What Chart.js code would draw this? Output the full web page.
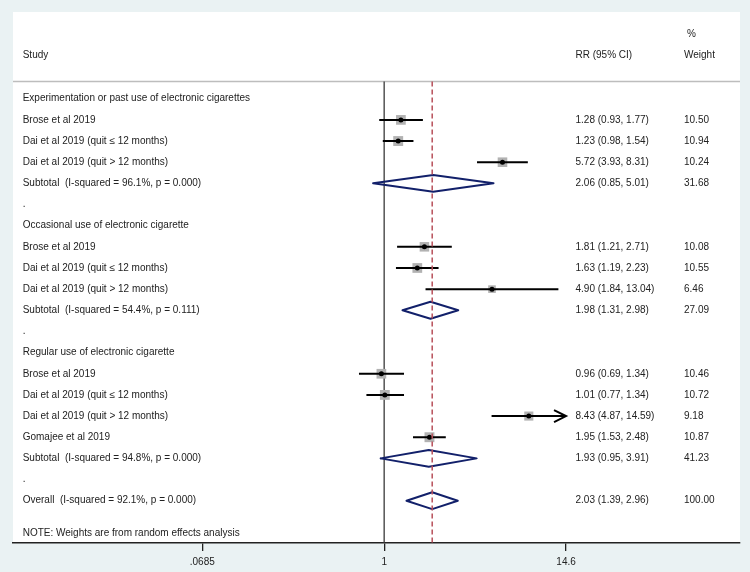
<!DOCTYPE html>
<html>
<head>
<meta charset="utf-8">
<script src="https://cdn.jsdelivr.net/npm/chart.js@4.4.1/dist/chart.umd.min.js"></script>
<style>
  html, body { margin: 0; padding: 0; background: #eaf2f3; }
  #wrap { width: 750px; height: 572px; }
</style>
</head>
<body>
<div id="wrap"><canvas id="forest" width="750" height="572"></canvas></div>
<script>
// ---- data ----
const rowLabels = [
    'Experimentation or past use of electronic cigarettes',
    'Brose et al 2019',
    'Dai et al 2019 (quit \u2264 12 months)',
    'Dai et al 2019 (quit > 12 months)',
    'Subtotal  (I-squared = 96.1%, p = 0.000)',
    '.',
    'Occasional use of electronic cigarette',
    'Brose et al 2019',
    'Dai et al 2019 (quit \u2264 12 months)',
    'Dai et al 2019 (quit > 12 months)',
    'Subtotal  (I-squared = 54.4%, p = 0.111)',
    '.',
    'Regular use of electronic cigarette',
    'Brose et al 2019',
    'Dai et al 2019 (quit \u2264 12 months)',
    'Dai et al 2019 (quit > 12 months)',
    'Gomajee et al 2019',
    'Subtotal  (I-squared = 94.8%, p = 0.000)',
    '.',
    'Overall  (I-squared = 92.1%, p = 0.000)'
];
const noteText = 'NOTE: Weights are from random effects analysis';

const studyRows   = [1, 2, 3, 7, 8, 9, 13, 14, 15, 16];
const studyRR     = [1.28, 1.23, 5.72, 1.81, 1.63, 4.90, 0.96, 1.01, 8.43, 1.95];
const studyLo     = [0.93, 0.98, 3.93, 1.21, 1.19, 1.84, 0.69, 0.77, 4.87, 1.53];
const studyHi     = [1.77, 1.54, 8.31, 2.71, 2.23, 13.04, 1.34, 1.34, 14.59, 2.48];
const studyWeight = [10.50, 10.94, 10.24, 10.08, 10.55, 6.46, 10.46, 10.72, 9.18, 10.87];
const arrowRows   = [15]; // CI runs past the axis end

const pooledRows   = [4, 10, 17, 19];
const pooledRR     = [2.06, 1.98, 1.93, 2.03];
const pooledLo     = [0.85, 1.31, 0.95, 1.39];
const pooledHi     = [5.01, 2.98, 3.91, 2.96];
const pooledWeight = [31.68, 27.09, 41.23, 100.00];

const xTicks = [0.0685, 1, 14.6];
const xTickLabels = ['.0685', '1', '14.6'];

// ---- layout constants ----
const FONT = '"Liberation Sans", Arial, Helvetica, sans-serif';
const TEXT = '#222';
const X_MIN = 0.004211, X_MAX = 189.5;
const Y_MIN = -4.1, Y_MAX = 21.0;
const HEADER_LINE = -0.82;
const DIAMOND_H = 0.4;
const COL_LABEL = 22.7, COL_RR = 575.5, COL_W = 684;

const fmt = v => v.toFixed(2);

// ---- build line data with gaps ----
const ciData = [];
studyRows.forEach((r, i) => {
    ciData.push({ x: studyLo[i], y: r }, { x: studyHi[i], y: r }, { x: studyHi[i], y: null });
});
const diamondData = [];
pooledRows.forEach((r, i) => {
    diamondData.push(
        { x: pooledLo[i], y: r }, { x: pooledRR[i], y: r - DIAMOND_H },
        { x: pooledHi[i], y: r }, { x: pooledRR[i], y: r + DIAMOND_H },
        { x: pooledLo[i], y: r }, { x: pooledLo[i], y: null }
    );
});
const overall = pooledRR[pooledRR.length - 1];

const bgPlugin = {
    id: 'bg',
    beforeDraw(chart) {
        const { ctx, chartArea: a } = chart;
        ctx.save();
        ctx.fillStyle = '#eaf2f3';
        ctx.fillRect(0, 0, chart.width, chart.height);
        ctx.fillStyle = '#ffffff';
        ctx.fillRect(a.left, a.top, a.right - a.left, a.bottom - a.top);
        // header separator
        const yh = chart.scales.y.getPixelForValue(HEADER_LINE);
        ctx.strokeStyle = '#bdbdbd';
        ctx.lineWidth = 1.5;
        ctx.beginPath();
        ctx.moveTo(a.left, yh);
        ctx.lineTo(a.right, yh);
        ctx.stroke();
        ctx.restore();
    }
};

const textPlugin = {
    id: 'texts',
    afterDatasetsDraw(chart) {
        const { ctx } = chart;
        const xs = chart.scales.x, ys = chart.scales.y;
        ctx.save();
        ctx.font = '10px ' + FONT;
        ctx.fillStyle = TEXT;
        ctx.textBaseline = 'middle';
        ctx.textAlign = 'left';

        ctx.fillText('%', COL_W + 3, ys.getPixelForValue(-3.05));
        ctx.fillText('Study', COL_LABEL, ys.getPixelForValue(-2.05));
        ctx.fillText('RR (95% CI)', COL_RR, ys.getPixelForValue(-2.05));
        ctx.fillText('Weight', COL_W, ys.getPixelForValue(-2.05));

        rowLabels.forEach((t, r) => ctx.fillText(t, COL_LABEL, ys.getPixelForValue(r)));
        ctx.fillText(noteText, COL_LABEL, ys.getPixelForValue(20.55));

        studyRows.forEach((r, i) => {
            const y = ys.getPixelForValue(r);
            ctx.fillText(`${fmt(studyRR[i])} (${fmt(studyLo[i])}, ${fmt(studyHi[i])})`, COL_RR, y);
            ctx.fillText(fmt(studyWeight[i]), COL_W, y);
        });
        pooledRows.forEach((r, i) => {
            const y = ys.getPixelForValue(r);
            ctx.fillText(`${fmt(pooledRR[i])} (${fmt(pooledLo[i])}, ${fmt(pooledHi[i])})`, COL_RR, y);
            ctx.fillText(fmt(pooledWeight[i]), COL_W, y);
        });

        // open arrowheads for truncated CIs
        ctx.strokeStyle = '#000';
        ctx.lineWidth = 2;
        arrowRows.forEach(r => {
            const i = studyRows.indexOf(r);
            const x = xs.getPixelForValue(studyHi[i]);
            const y = ys.getPixelForValue(r);
            ctx.beginPath();
            ctx.moveTo(x - 12, y - 6);
            ctx.lineTo(x, y);
            ctx.lineTo(x - 12, y + 6);
            ctx.stroke();
        });
        ctx.restore();
    }
};

new Chart(document.getElementById('forest'), {
    type: 'scatter',
    data: {
        datasets: [
            { // null line at RR = 1
                data: [{ x: 1, y: HEADER_LINE }, { x: 1, y: Y_MAX }],
                showLine: true, borderColor: '#3a3a3a', borderWidth: 1.3, pointRadius: 0, order: 7
            },
            { // weight boxes
                data: studyRows.map((r, i) => ({ x: studyRR[i], y: r })),
                pointStyle: 'rect', backgroundColor: '#b2b2b2', borderWidth: 0,
                pointRadius: studyWeight.map(w => 3.0 * Math.sqrt(w) / Math.SQRT2), order: 6
            },
            { // confidence intervals
                data: ciData, showLine: true, borderColor: '#000', borderWidth: 2,
                pointRadius: 0, spanGaps: false, order: 5
            },
            { // point estimates
                data: studyRows.map((r, i) => ({ x: studyRR[i], y: r })),
                pointStyle: 'circle', pointRadius: 2.5, backgroundColor: '#000', borderWidth: 0, order: 4
            },
            { // pooled diamonds
                data: diamondData, showLine: true, borderColor: '#12206a', borderWidth: 2,
                borderJoinStyle: 'round', borderCapStyle: 'round',
                pointRadius: 0, spanGaps: false, order: 3
            },
            { // overall estimate line
                data: [{ x: overall, y: HEADER_LINE }, { x: overall, y: Y_MAX }],
                showLine: true, borderColor: '#b8505a', borderWidth: 1.5, borderDash: [5, 3],
                pointRadius: 0, order: 2
            }
        ]
    },
    options: {
        responsive: false,
        animation: false,
        devicePixelRatio: 1,
        layout: { padding: { left: 13, right: 10, top: 12, bottom: -1 } },
        plugins: { legend: { display: false }, tooltip: { enabled: false } },
        scales: {
            x: {
                type: 'logarithmic',
                min: X_MIN, max: X_MAX, bounds: 'data',
                afterBuildTicks: s => { s.ticks = xTicks.map(v => ({ value: v })); },
                ticks: {
                    callback: (v, i) => xTickLabels[i],
                    font: { family: FONT, size: 10 }, color: TEXT,
                    padding: 5, maxRotation: 0, autoSkip: false
                },
                grid: { drawOnChartArea: false, drawTicks: true, tickLength: 8, color: '#222', lineWidth: 1.3 },
                border: { display: true, color: '#222', width: 1.5 }
            },
            y: {
                type: 'linear', reverse: true, min: Y_MIN, max: Y_MAX, display: false
            }
        }
    },
    plugins: [bgPlugin, textPlugin]
});
</script>
</body>
</html>
